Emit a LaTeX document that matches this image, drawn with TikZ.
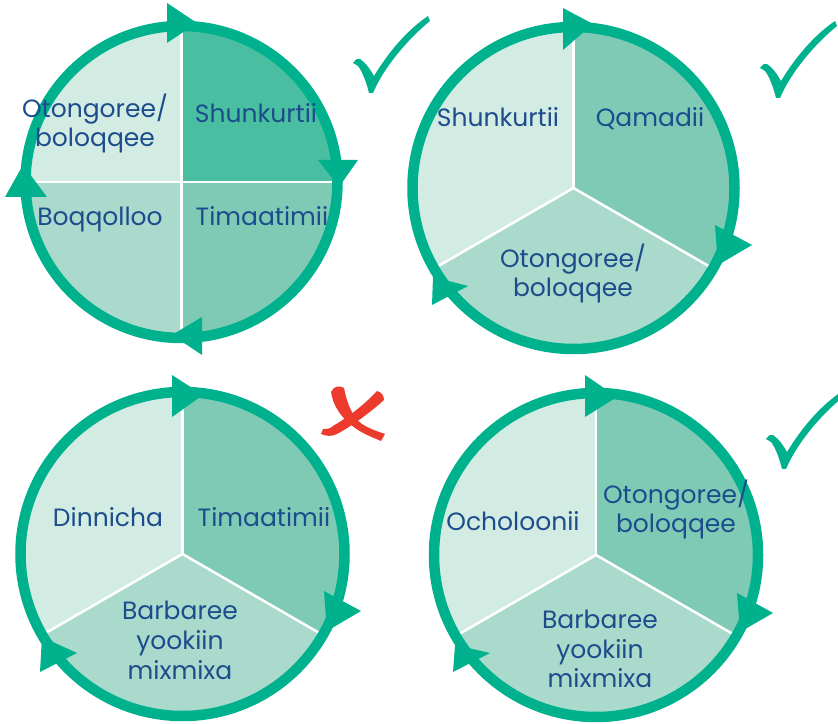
\documentclass[tikz,border=0pt]{standalone}
\usepackage{fontspec}
\setmainfont{Poppins}
\definecolor{ringgreen}{RGB}{0,177,142}
\definecolor{paleA}{RGB}{211,236,227}
\definecolor{paleB}{RGB}{169,218,204}
\definecolor{paleC}{RGB}{127,202,181}
\definecolor{paleD}{RGB}{74,190,160}
\definecolor{textblue}{RGB}{28,76,140}
\definecolor{crossred}{RGB}{236,58,44}
\newcommand{\sector}[5]{\fill[#5] (#1) -- ++(#2:#4) arc[start angle=#2, end angle=#3, radius=#4] -- cycle;}
\newcommand{\tick}[1]{\fill[ringgreen, shift={#1}] (-17,30) .. controls (-14,34) and (-12,35) .. (-10,34)
  .. controls (-4,30) and (0,24) .. (4,17) .. controls (18,40) and (36,62) .. (58,77)
  -- (60,72) .. controls (38,54) and (14,26) .. (3,0) -- (-1,0)
  .. controls (-4,12) and (-8,22) .. (-12,27) .. controls (-14,29) .. cycle;}
\tikzset{
  ring/.style={draw=ringgreen, line width=10.5pt},
  divider/.style={draw=white, line width=2.5pt},
  tip/.style={fill=ringgreen},
  word/.style={text=textblue, font=\fontsize{25}{29.5}\selectfont, inner sep=0pt, anchor=base, align=center}
}
\begin{document}
\begin{tikzpicture}[x=1pt,y=1pt]
\useasboundingbox (0,0) rectangle (838,723);
\coordinate (c1) at (181.5,541);
\coordinate (c2) at (573.5,535);
\coordinate (c3) at (182.5,169);
\coordinate (c4) at (596,168);
% top left circle
\sector{c1}{90}{180}{156}{paleA}
\sector{c1}{0}{90}{156}{paleD}
\sector{c1}{180}{270}{156}{paleB}
\sector{c1}{270}{360}{156}{paleC}
\draw[divider] ([yshift=156]c1) -- ([yshift=-156]c1);
\draw[divider] ([xshift=-156]c1) -- ([xshift=156]c1);
\draw[ring] (c1) circle[radius=156];
\fill[tip] (167,720) -- (167,680) -- (197,700) -- cycle;
\fill[tip] (318,563) -- (358,563) -- (339,536) -- cycle;
\fill[tip] (202,406) -- (202,368) -- (172,388) -- cycle;
\fill[tip] (5,526) -- (47,526) -- (23,558) -- cycle;
% three part circles
\foreach \c/\r in {c2/161,c3/162,c4/162}{
  \sector{\c}{90}{210}{\r}{paleA}
  \sector{\c}{-30}{90}{\r}{paleC}
  \sector{\c}{210}{330}{\r}{paleB}
  \foreach \a in {90,210,330}
    \draw[divider] (\c) -- ++(\a:\r);
  \draw[ring] (\c) circle[radius=\r];
}
\fill[tip] (563,715) -- (563,673) -- (593,699) -- cycle;
\fill[tip] (715,498) -- (752,478) -- (718,458) -- cycle;
\fill[tip] (433,446) -- (468,437) -- (432,418) -- cycle;
\fill[tip] (172,348) -- (172,306) -- (203,328) -- cycle;
\fill[tip] (324,132) -- (361,112) -- (327,92) -- cycle;
\fill[tip] (42,86) -- (77,70) -- (40,51) -- cycle;
\fill[tip] (585,348) -- (585,306) -- (617,326) -- cycle;
\fill[tip] (737,130) -- (773,110) -- (740,91) -- cycle;
\fill[tip] (455,78) -- (490,70) -- (453,51) -- cycle;
% labels (base = last line)
\node[word] (otgA) at (95,576) {Otongoree/\\boloqqee};
\node[word] (shunA) at (256,600) {Shunkurtii};
\node[word] (boq) at (100,497) {Boqqolloo};
\node[word] (timA) at (262,497) {Timaatimii};
\node[word] (shunB) at (498,596) {Shunkurtii};
\node[word] (qam) at (650,596) {Qamadii};
\node[word] (otgB) at (573,426) {Otongoree/\\boloqqee};
\node[word] (dinn) at (108,196) {Dinnicha};
\node[word] (timC) at (264,196) {Timaatimii};
\node[word] (barbC) at (180,44) {Barbaree\\yookiin\\mixmixa};
\node[word] (och) at (513,192) {Ocholoonii};
\node[word] (otgD) at (676,190) {Otongoree/\\boloqqee};
\node[word] (barbD) at (600,35) {Barbaree\\yookiin\\mixmixa};
% marks
\tick{(370,630)}
\tick{(777,625)}
\tick{(783,254)}
\fill[crossred] (331,331) .. controls (333,318) and (340,305) .. (358,293)
  .. controls (366,288) and (374,285) .. (381,282) -- (385,289)
  .. controls (376,292) and (368,295) .. (362,299)
  .. controls (352,306) and (347,320) .. (344,335)
  .. controls (339,338) and (334,337) .. cycle;
\fill[crossred] (384,323) .. controls (372,312) and (352,297) .. (337,289)
  .. controls (331,286) and (326,287) .. (321,289) -- (323,294)
  .. controls (327,294) and (330,294) .. (333,297)
  .. controls (350,307) and (366,320) .. (377,332)
  .. controls (381,331) and (384,328) .. cycle;
\end{tikzpicture}
\end{document}
